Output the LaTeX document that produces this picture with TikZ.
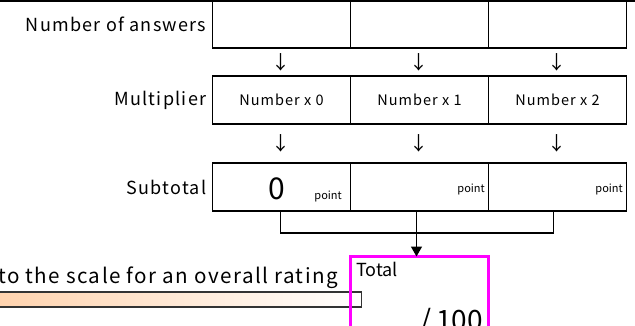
\documentclass[tikz,border=0pt]{standalone}
\usepackage{fontspec}
\setmainfont{Noto Sans CJK JP}
\newfontfamily\spaced[LetterSpace=7]{Noto Sans CJK JP}
\usetikzlibrary{positioning,arrows.meta,calc}
\definecolor{barorange}{RGB}{255,210,172}
\definecolor{pink}{RGB}{255,0,255}

\begin{document}
\begin{tikzpicture}[x=1pt, y=-1pt,
  cell/.style={draw, line width=1.5pt, outer sep=0pt, inner sep=0pt,
    minimum width=138pt, minimum height=47pt, font=\spaced\fontsize{14.5}{16}\selectfont},
  row label/.style={inner sep=0pt, font=\spaced\fontsize{18}{20}\selectfont},
  down/.style={inner sep=0pt, font=\fontsize{19}{20}\selectfont},
  pt/.style={inner sep=0pt, font=\fontsize{11}{12}\selectfont},
  link/.style={line width=1.5pt},
  node distance=0pt]
\useasboundingbox (0,0) rectangle (635,326);
\clip (0,0) rectangle (635,326);

% rows of the table
\node[cell] (a1) at (281.5,24.5) {};
\node[cell, right=of a1] (a2) {};
\node[cell, right=of a2] (a3) {};
\node[cell, minimum height=48pt] (b1) at (281.5,100) {Number x 0};
\node[cell, minimum height=48pt, right=of b1] (b2) {Number x 1};
\node[cell, minimum height=48pt, right=of b2] (b3) {Number x 2};
\node[cell, minimum height=48pt] (c1) at (281.5,187) {};
\node[cell, minimum height=48pt, right=of c1] (c2) {};
\node[cell, minimum height=48pt, right=of c2] (c3) {};
\coordinate (topl) at (0,1);
\coordinate (topr) at (635,1);
\draw[line width=3pt] (topl) -- (topr);

\node[row label, left=6pt of a1.west, anchor=east] (na) {Number of answers};
\node[row label, left=6pt of b1.west, anchor=east] (nb) {Multiplier};
\node[row label, left=6pt of c1.west, anchor=east] (nc) {Subtotal};

% arrows between rows
\foreach \i in {1,2,3} {
  \node[down] (da\i) at ($(a\i.south)!.5!(b\i.north)+(-1,0)$) {↓};
  \node[down] (db\i) at ($(b\i.south)!.5!(c\i.north)+(-1,0)$) {↓};
}

% subtotal cells
\node[font=\fontsize{30}{32}\selectfont, inner sep=0pt] (zero) at (277,189) {0};
\node[pt, anchor=base east] (p1) at (342,200) {point};
\node[pt, anchor=base east] (p2) at (485,193) {point};
\node[pt, anchor=base east] (p3) at (623,193) {point};

% scale bar
\node[anchor=base east, font=\spaced\fontsize{20.6}{22}\selectfont, inner sep=0pt] (rate) at (338,283)
  {to the scale for an overall rating};
\node[draw=black!80, line width=1.3pt, left color=barorange, right color=white,
  minimum width=372pt, minimum height=15pt, inner sep=0pt, anchor=east] (scale) at (362,299.5) {};

% total
\node[draw=pink, line width=3pt, outer sep=0pt, minimum width=138pt, minimum height=110pt,
  anchor=north] (total) at (419,256.5) {};
\node[anchor=north west, inner sep=0pt, font=\fontsize{18}{20}\selectfont] (ttl)
  at ($(total.north west)+(6,5)$) {Total};
\node[anchor=base east, inner sep=0pt, font=\fontsize{28}{30}\selectfont] (outof) at (483,330) {/\,100};

% bracket to the total
\coordinate (j2) at ($(c2.south)+(-3,22)$);
\draw[link] ([xshift=-1pt]c1.south) |- (j2) -| ([xshift=-4pt]c3.south);
\draw[link] (j2 |- c2.south) -- (j2);
\draw[link, -{Triangle[width=11pt,length=10pt]}] (j2) -- (j2 |- total.north);
\end{tikzpicture}
\end{document}
